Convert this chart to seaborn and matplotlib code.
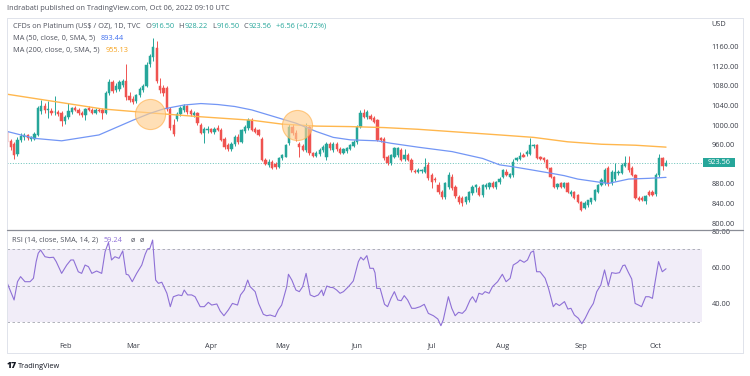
import matplotlib
matplotlib.use("Agg")
import matplotlib.pyplot as plt
import matplotlib.transforms as mtransforms
from matplotlib.lines import Line2D
from matplotlib.patches import Rectangle
import numpy as np
import pandas as pd
import seaborn as sns

# ---------------- data ----------------
first_session = "2022-01-07"

opens = [987, 968, 962, 941, 970, 976, 979, 972, 972, 980,
         1028, 1040, 1030, 1028, 1026, 1027, 1024, 1008, 1017, 1026,
         1034, 1031, 1025, 1020, 1034, 1031, 1025, 1031, 1030, 1025,
         1066, 1088, 1071, 1074, 1082, 1090, 1060, 1054, 1049, 1061,
         1072, 1080, 1124, 1138, 1158, 1080, 1076, 1075, 1032, 1000,
         1012, 1022, 1030, 1038, 1028, 1020, 1024, 1000, 984, 990,
         992, 986, 994, 990, 972, 960, 952, 962, 976, 966,
         988, 995, 1010, 993, 990, 972, 929, 918, 925, 920,
         915, 932, 936, 963, 997, 983, 962, 958, 950, 997,
         943, 937, 942, 950, 936, 962, 950, 962, 952, 944,
         948, 952, 958, 966, 997, 1024, 1016, 1018, 1014, 1010,
         973, 972, 936, 922, 936, 940, 950, 930, 940, 929,
         906, 905, 906, 905, 919, 898, 890, 878, 864, 854,
         874, 895, 874, 854, 851, 844, 847, 861, 874, 871,
         857, 874, 874, 881, 874, 884, 895, 905, 895, 898,
         929, 930, 940, 942, 942, 957, 959, 934, 932, 929,
         912, 895, 874, 881, 874, 882, 859, 864, 857, 844,
         830, 837, 844, 847, 864, 878, 881, 912, 882, 890,
         902, 902, 917, 922, 912, 898, 852, 852, 846, 864,
         864, 859, 898, 932, 916.50]
highs = [992, 972, 966, 975, 984, 983, 982, 978, 986, 1040,
         1052, 1045, 1050, 1034, 1060, 1030, 1028, 1020, 1046, 1036,
         1038, 1034, 1028, 1034, 1038, 1034, 1034, 1035, 1034, 1070,
         1095, 1092, 1085, 1092, 1094, 1124, 1068, 1060, 1064, 1078,
         1084, 1128, 1145, 1178, 1172, 1096, 1082, 1080, 1036, 1012,
         1026, 1040, 1044, 1042, 1032, 1028, 1026, 1004, 996, 998,
         994, 996, 1000, 994, 976, 964, 966, 980, 982, 992,
         1000, 1015, 1014, 996, 992, 975, 932, 930, 928, 925,
         936, 942, 962, 1003, 1002, 990, 966, 962, 1004, 1000,
         946, 948, 954, 960, 966, 966, 966, 966, 956, 954,
         956, 962, 970, 1000, 1030, 1032, 1031, 1022, 1018, 1012,
         976, 976, 940, 942, 956, 956, 954, 952, 944, 932,
         910, 912, 910, 932, 924, 902, 894, 884, 868, 884,
         905, 900, 878, 858, 855, 856, 866, 878, 880, 876,
         880, 882, 884, 886, 886, 895, 910, 910, 902, 930,
         936, 946, 944, 950, 973, 962, 962, 937, 934, 930,
         914, 897, 882, 884, 884, 884, 868, 866, 860, 846,
         846, 848, 852, 870, 880, 892, 912, 916, 908, 922,
         908, 922, 938, 938, 916, 900, 856, 856, 858, 868,
         868, 902, 941, 934, 928.22]
lows = [955, 950, 930, 938, 966, 970, 970, 968, 970, 978,
        1022, 1025, 1015, 1020, 1020, 1018, 998, 1003, 1012, 1022,
        1028, 1020, 1017, 1010, 1028, 1022, 1022, 1026, 1012, 1022,
        1062, 1065, 1068, 1070, 1078, 1052, 1048, 1044, 1046, 1058,
        1068, 1077, 1118, 1130, 1085, 1066, 1060, 1028, 990, 978,
        1008, 1018, 1026, 1022, 1018, 1016, 1000, 982, 963, 984,
        984, 982, 988, 968, 952, 948, 948, 958, 962, 964,
        984, 990, 988, 984, 978, 926, 918, 914, 910, 910,
        912, 928, 934, 960, 980, 968, 935, 948, 946, 940,
        935, 934, 938, 946, 928, 950, 946, 948, 942, 941,
        944, 950, 955, 962, 994, 1014, 1012, 1010, 1004, 968,
        966, 928, 918, 918, 932, 936, 926, 926, 926, 905,
        902, 902, 902, 902, 888, 872, 884, 860, 850, 850,
        870, 868, 852, 840, 835, 840, 844, 858, 864, 856,
        854, 870, 870, 872, 870, 880, 892, 896, 892, 895,
        926, 928, 934, 938, 940, 954, 930, 928, 925, 910,
        893, 872, 870, 872, 871, 862, 855, 849, 842, 824,
        828, 834, 840, 845, 862, 875, 878, 876, 878, 886,
        898, 900, 915, 905, 896, 850, 846, 845, 840, 856,
        855, 855, 895, 908, 916.50]
closes = [966, 956, 940, 970, 978, 979, 973, 975, 982, 1035,
          1040, 1030, 1032, 1024, 1027, 1022, 1008, 1017, 1028, 1034,
          1031, 1024, 1021, 1032, 1030, 1025, 1031, 1028, 1024, 1066,
          1088, 1070, 1080, 1088, 1090, 1058, 1052, 1048, 1061, 1074,
          1080, 1122, 1140, 1160, 1090, 1072, 1066, 1032, 995, 982,
          1022, 1035, 1040, 1026, 1022, 1024, 1004, 984, 993, 993,
          986, 993, 991, 970, 955, 951, 962, 976, 966, 990,
          996, 1010, 990, 987, 980, 929, 920, 924, 912, 914,
          932, 939, 959, 997, 983, 972, 955, 950, 997, 943,
          937, 944, 950, 956, 962, 953, 962, 951, 944, 952,
          954, 960, 966, 997, 1024, 1017, 1026, 1012, 1007, 970,
          970, 932, 922, 939, 953, 953, 929, 940, 929, 908,
          905, 908, 908, 915, 892, 885, 888, 864, 853, 881,
          898, 871, 856, 844, 841, 854, 864, 874, 878, 857,
          878, 878, 881, 874, 884, 891, 908, 899, 900, 925,
          932, 938, 936, 946, 959, 960, 932, 930, 928, 912,
          895, 874, 880, 874, 881, 864, 864, 851, 844, 827,
          842, 847, 851, 868, 878, 888, 908, 880, 904, 905,
          905, 919, 922, 908, 898, 851, 848, 847, 856, 858,
          858, 898, 932, 917, 923.56]

ma50_bar = [0, 8, 16, 27, 37, 42, 46, 52, 57, 62, 67, 72, 85, 91, 96, 101,
            109, 113, 121, 131, 140, 145, 149, 155, 160, 164, 168, 173, 177,
            183, 189, 194]
ma50_val = [987, 973, 968, 980, 1010, 1024, 1033, 1041, 1044, 1042, 1038,
            1031, 1004, 987, 975, 970, 968, 963, 955, 946, 932, 919, 915,
            908, 902, 897, 890, 885, 881, 890, 891.5, 893.44]

ma200_bar = [0, 28, 42, 57, 72, 81, 91, 101, 111, 121, 131, 145, 155, 165,
             175, 185, 194]
ma200_val = [1063, 1033, 1025, 1017, 1010, 1002, 998, 997, 995, 991.5,
             986.7, 980, 975, 966, 961, 959, 955.13]

rsi_bar = [0, 2, 3, 3.9, 5.2, 6.7, 7.7, 8.5, 9.1, 9.8, 11.1, 12.4, 13.6, 14.4,
           16, 17.5, 18.7, 19.5, 20.9, 21.9, 22.9, 23.9, 24.9, 26.3, 27.8,
           28.8, 29.8, 30.7, 31.7, 32.9, 34, 35, 35.7, 36.8, 38.1, 39.6, 40.6,
           41.3, 42, 42.8, 43.7, 44.5, 45.5, 47, 48, 48.9, 50.4, 51.4, 52.1,
           53.1, 54.3, 55.3, 56.8, 58, 59.2, 60.2, 61.7, 62.7, 63.8, 65.1,
           66.3, 67.8, 68.7, 69.8, 70.8, 71.5, 73, 74, 75.4, 76.4, 77.4, 78.9,
           79.8, 80.8, 82.3, 82.8, 83.8, 85, 86, 87, 88, 89.2, 90.4, 91.6,
           92.6, 93.1, 94.1, 95.1, 96, 97, 98, 99, 100.5, 101.9, 103.4, 104.1,
           104.9, 105.9, 106.8, 107.8, 108.3, 108.8, 109.8, 111.1, 112, 113,
           114, 115, 116, 116.9, 117.9, 119.1, 120.1, 121.6, 122.8, 124, 125.5,
           126.8, 127.7, 128.4, 129.9, 130.9, 131.9, 132.9, 134, 135, 136.3,
           137, 138, 138.9, 139.9, 140.7, 141.9, 142.9, 144.4, 145.8, 146.9,
           148.1, 149, 150.3, 151, 152.2, 153.2, 154.2, 155, 155.9, 156.9,
           158.4, 159.4, 160.8, 161.6, 162.6, 164.1, 165.1, 166, 167, 168.2,
           169.2, 170.2, 171.4, 172.6, 173.6, 174.8, 175.9, 177, 178, 179.2,
           180.3, 181.3, 181.9, 182.9, 183.9, 184.9, 185.9, 186.8, 188, 189,
           190, 190.8, 191.8, 192.9, 194]
rsi_val = [51.2, 42.0, 52.1, 54.9, 52.1, 52.1, 54.0, 63.2, 67.8, 69.6, 65.9,
           65.4, 65.6, 63.2, 56.7, 61.3, 64.1, 64.1, 57.6, 56.7, 61.3, 60.4,
           56.7, 58.0, 56.7, 68.7, 73.8, 64.1, 65.9, 65.0, 69.1, 56.2, 55.8,
           52.1, 56.7, 61.3, 67.2, 70.2, 70.5, 75.1, 53.0, 51.2, 51.8, 45.7,
           38.3, 43.8, 44.8, 44.4, 47.5, 44.8, 44.8, 43.8, 38.3, 38.3, 40.7,
           39.2, 39.8, 35.9, 33.3, 36.5, 40.1, 39.2, 44.8, 47.5, 53.0, 49.4,
           46.6, 40.1, 34.1, 33.3, 33.7, 32.8, 36.5, 39.2, 49.4, 56.2, 53.0,
           47.5, 46.6, 49.4, 56.7, 44.8, 43.8, 44.8, 47.5, 44.4, 49.7, 49.0,
           48.8, 47.5, 45.7, 46.6, 49.4, 52.5, 63.2, 65.6, 64.1, 66.5, 59.5,
           59.5, 57.0, 48.4, 48.4, 39.6, 38.3, 42.9, 46.6, 42.0, 41.6, 44.4,
           42.0, 37.4, 37.4, 38.3, 39.6, 34.6, 33.3, 31.5, 27.8, 31.0, 43.8,
           37.4, 33.3, 35.2, 34.6, 36.5, 42.0, 43.8, 40.7, 45.7, 45.1, 46.6,
           45.7, 49.4, 52.1, 56.2, 52.1, 54.0, 61.3, 62.8, 64.1, 62.8, 64.1,
           68.3, 69.1, 57.6, 57.6, 54.0, 48.4, 38.3, 40.1, 38.9, 41.1, 37.0,
           37.4, 33.7, 31.9, 28.9, 31.9, 36.5, 40.1, 46.6, 50.3, 58.6, 49.9,
           57.1, 56.7, 57.1, 61.0, 61.3, 57.3, 53.6, 40.1, 39.2, 38.3, 43.8,
           43.8, 42.9, 52.1, 63.2, 57.6, 59.24]

price_ticks = [800, 840, 880, 960, 1000, 1040, 1080, 1120, 1160]
rsi_ticks = [40, 60, 80]
rsi_levels = [30, 50, 70]
last_close = 923.56
highlight_bar = [42.0, 85.2]
highlight_price = [1022.8, 1000.4]

# ---------------- style ----------------
GREEN = "#26a69a"
RED = "#ef5350"
BLUE_LINE = "#7396f5"
BLUE_TXT = "#3f6ff0"
ORANGE_LINE = "#ffb74d"
ORANGE_TXT = "#f7a21b"
PURPLE = "#8e70d6"
TXT = "#50535e"
AXTXT = "#3a3d47"
GRID = "#e0e3eb"

sns.set_theme(style="white")
plt.rcParams["font.family"] = ["Open Sans", "DejaVu Sans"]

W, H = 750, 376
fig = plt.figure(figsize=(W / 100, H / 100), dpi=100)
fig.patch.set_facecolor("white")


def fx(px):
    return px / W


def fy(py):
    return 1 - py / H


L, R = 7, 702
T_MAIN, B_MAIN, B_RSI = 18, 230, 333
ax = fig.add_axes([fx(L), fy(B_MAIN), (R - L) / W, (B_MAIN - T_MAIN) / H])
axr = fig.add_axes([fx(L), fy(B_RSI), (R - L) / W, (B_RSI - B_MAIN) / H])

xlim = (-0.09, 204.6)

# ---------------- candles ----------------
o = np.array(opens, dtype=float)
h = np.array(highs, dtype=float)
lo = np.array(lows, dtype=float)
c = np.array(closes, dtype=float)
xs = np.arange(len(c))
cols = np.where(c >= o, GREEN, RED)
ax.vlines(xs, lo, h, colors=cols, linewidth=0.7, zorder=2)
ax.bar(xs, c - o, bottom=o, width=0.68, color=cols, edgecolor=cols,
       linewidth=0.35, zorder=3)

sns.lineplot(x=ma200_bar, y=ma200_val, ax=ax, color=ORANGE_LINE,
             linewidth=1.0, zorder=4)
sns.lineplot(x=ma50_bar, y=ma50_val, ax=ax, color=BLUE_LINE,
             linewidth=0.9, zorder=4)

ax.axhline(last_close, color=GREEN, linewidth=0.6, linestyle=(0, (1.2, 2)),
           alpha=0.8, zorder=1)

ax.scatter(highlight_bar, highlight_price, s=470, facecolor="#ffcf8f",
           edgecolor="#ffb04a", linewidth=0.8, alpha=0.65, zorder=6)

ax.set_xlim(*xlim)
ax.set_ylim(786.1, 1218.5)
ax.set_xticks([])
ax.yaxis.tick_right()
ax.set_yticks(price_ticks)
ax.set_yticklabels([f"{v:.2f}" for v in price_ticks])
ax.tick_params(axis="y", length=0, pad=7, labelsize=5.3, labelcolor=AXTXT)
for s in ax.spines.values():
    s.set_visible(False)
ax.set_xlabel("")
ax.set_ylabel("")

# last-price tag on the price scale
blend = mtransforms.blended_transform_factory(fig.transFigure, ax.transData)
ax.add_patch(Rectangle((fx(702.5), last_close - 9.2), (735 - 702.5) / W, 18.4,
                       transform=blend, facecolor=GREEN, edgecolor="none",
                       clip_on=False, zorder=7))
ax.text(fx(718.7), last_close, f"{last_close:.2f}", transform=blend,
        fontsize=5.3, color="white", va="center", ha="center", zorder=8,
        clip_on=False)

# ---------------- RSI ----------------
axr.axhspan(rsi_levels[0], rsi_levels[2], color="#7e57c2", alpha=0.1, lw=0)
for lv in rsi_levels:
    axr.axhline(lv, color="#a3a6af", linewidth=0.6, linestyle=(0, (3, 3)))
sns.lineplot(x=rsi_bar, y=rsi_val, ax=axr, color=PURPLE, linewidth=0.8,
             zorder=3)
axr.set_xlim(*xlim)
axr.set_ylim(23.76, 80.66)
axr.yaxis.tick_right()
axr.set_yticks(rsi_ticks)
axr.set_yticklabels([f"{v:.2f}" for v in rsi_ticks])
axr.tick_params(axis="y", length=0, pad=7, labelsize=5.3, labelcolor=AXTXT)

sessions = pd.bdate_range(first_session, periods=len(closes))
month_pos = [i for i in range(1, len(sessions))
             if sessions[i].month != sessions[i - 1].month]
axr.set_xticks(month_pos)
axr.set_xticklabels([sessions[i].strftime("%b") for i in month_pos])
axr.tick_params(axis="x", length=0, pad=7, labelsize=5.3, labelcolor=AXTXT)
for s in axr.spines.values():
    s.set_visible(False)
axr.set_xlabel("")
axr.set_ylabel("")

# ---------------- frame ----------------
def hline(y, x0, x1, color, lw):
    fig.add_artist(Line2D([fx(x0), fx(x1)], [fy(y), fy(y)], color=color,
                          linewidth=lw, transform=fig.transFigure))


def vline(x, y0, y1, color, lw):
    fig.add_artist(Line2D([fx(x), fx(x)], [fy(y0), fy(y1)], color=color,
                          linewidth=lw, transform=fig.transFigure))


hline(18, 7, 743, GRID, 0.7)
hline(353, 7, 743, GRID, 0.7)
vline(7, 18, 353, GRID, 0.7)
vline(743, 18, 353, GRID, 0.7)
hline(230, 7, 743, "#8a8d96", 0.9)

# ---------------- texts ----------------
fig.canvas.draw()
renderer = fig.canvas.get_renderer()


def rich(x, y, parts, size):
    for s, color, gap in parts:
        t = fig.text(fx(x), fy(y), s, fontsize=size, color=color,
                     va="center", ha="left")
        x += t.get_window_extent(renderer).width + gap


fig.text(fx(7), fy(9), "Indrabati published on TradingView.com, Oct 06, 2022 09:10 UTC",
         fontsize=5.3, color=TXT, va="center", ha="left")

rich(12.7, 26, [("CFDs on Platinum (US$ / OZ), 1D, TVC", TXT, 5),
                ("O", TXT, 0.5), ("916.50", GREEN, 4),
                ("H", TXT, 0.5), ("928.22", GREEN, 4),
                ("L", TXT, 0.5), ("916.50", GREEN, 4),
                ("C", TXT, 0.5), ("923.56", GREEN, 4),
                ("+6.56 (+0.72%)", GREEN, 0)], 5.3)
rich(12.7, 38, [("MA (50, close, 0, SMA, 5)", TXT, 6),
                ("893.44", BLUE_TXT, 0)], 5.3)
rich(12.7, 50, [("MA (200, close, 0, SMA, 5)", TXT, 6),
                ("955.13", ORANGE_TXT, 0)], 5.3)
rich(11.7, 240, [("RSI (14, close, SMA, 14, 2)", TXT, 6),
                 ("59.24", PURPLE, 8), ("ø", TXT, 5), ("ø", TXT, 0)], 5.3)

fig.text(fx(711), fy(25), "USD", fontsize=5.3, color=AXTXT, va="center", ha="left")

rich(7, 366, [("17", "#131722", 2)], 6.2)
fig.texts[-1].set_fontweight("heavy")
fig.text(fx(18), fy(366), "TradingView", fontsize=5.3, color="#131722",
         va="center", ha="left")

fig.savefig("out.png", dpi=100, facecolor="white")
